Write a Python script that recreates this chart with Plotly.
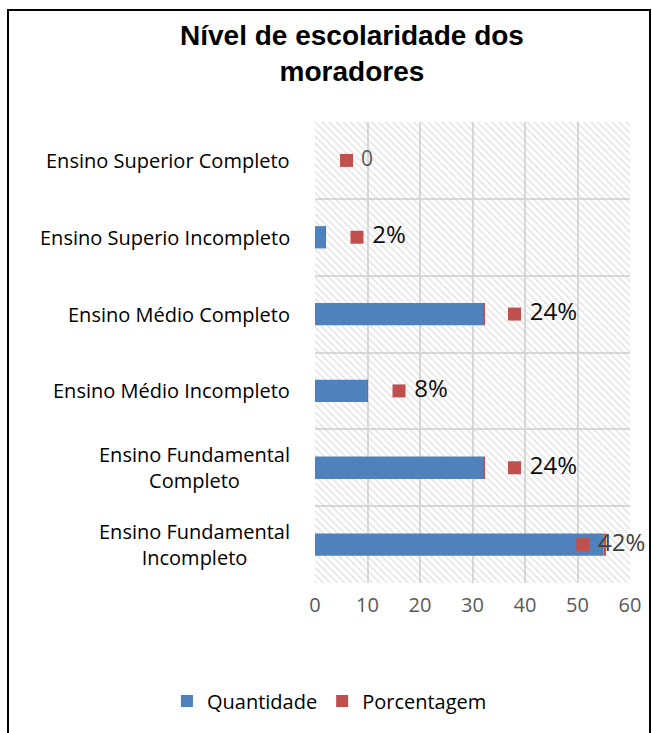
import plotly.graph_objects as go

categories = [
    "Ensino Fundamental<br>Incompleto",
    "Ensino Fundamental<br>Completo",
    "Ensino Médio Incompleto",
    "Ensino Médio Completo",
    "Ensino Superio Incompleto",
    "Ensino Superior Completo",
]
quantidade = [55, 32, 10, 32, 2, 0]
porcentagem = [0.42, 0.24, 0.08, 0.24, 0.02, 0.0]
pct_labels = ["42%", "24%", "8%", "24%", "2%", "0"]
x_ticks = [0, 10, 20, 30, 40, 50, 60]

BLUE = "#4F81BD"
RED = "#C0504D"
GRID = "#D9D9D9"
FONT = "'Open Sans', Lato, sans-serif"

ypos = list(range(len(categories)))
xmax = x_ticks[-1]

# label key positions: offset right of the bar end, clamped inside the plot
label_x = [min(q + 6, xmax - 9) for q in quantidade]

fig = go.Figure()

# hatched plot-area background (transparent between hatch lines so grid shows)
fig.add_trace(go.Bar(
    x=[xmax] * len(categories), y=ypos, orientation="h", width=1,
    marker=dict(color="rgba(0,0,0,0)", line=dict(width=0),
                pattern=dict(shape="\\", fgcolor="#C8C8C8", bgcolor="rgba(0,0,0,0)",
                             size=5, solidity=0.3)),
    showlegend=False, hoverinfo="skip",
))

fig.add_trace(go.Bar(
    x=quantidade, y=ypos, orientation="h", width=0.29,
    marker=dict(color=BLUE, line=dict(width=0)),
    name="Quantidade",
))

fig.add_trace(go.Bar(
    x=porcentagem, y=ypos, base=quantidade, orientation="h", width=0.29,
    marker=dict(color=RED, line=dict(width=0)),
    name="Porcentagem",
))

fig.add_trace(go.Scatter(
    x=label_x, y=ypos, mode="markers+text",
    marker=dict(symbol="square", size=13, color=RED),
    text=[" " + t for t in pct_labels], textposition="middle right",
    textfont=dict(family=FONT, size=[24, 24, 24, 24, 24, 21],
                  color=["#404040", "#0d0d0d", "#0d0d0d", "#0d0d0d", "#0d0d0d", "#595959"]),
    showlegend=False, hoverinfo="skip", cliponaxis=False,
))

# category labels (centered multi-line, right-anchored)
for yv, cat in zip(ypos, categories):
    fig.add_annotation(
        x=-0.073, xref="paper", y=yv, yref="y", text=cat,
        xanchor="right", yanchor="middle", align="center", showarrow=False,
        font=dict(family=FONT, size=20, color="#000000"),
    )

# title
fig.add_annotation(
    x=0.117, xref="paper", y=1 + (122 - 18) / 461, yref="paper",
    text="<b>Nível de escolaridade dos<br>moradores</b>",
    xanchor="center", yanchor="top", align="center", showarrow=False,
    font=dict(family="Liberation Sans, Arial, sans-serif", size=28, color="#000000"),
)

fig.update_layout(
    width=652, height=733,
    margin=dict(l=315, r=22, t=122, b=150),
    paper_bgcolor="white", plot_bgcolor="white",
    barmode="overlay",
    legend=dict(orientation="h", x=-0.47, xanchor="left", y=-0.256, yanchor="middle",
                font=dict(family=FONT, size=20, color="#000000"),
                itemsizing="constant", itemwidth=30, traceorder="normal"),
    xaxis=dict(range=[0, xmax], tickvals=x_ticks, showgrid=True, gridcolor=GRID, gridwidth=2,
               zeroline=False, showline=False, ticks="",
               tickfont=dict(family=FONT, size=20, color="#595959"), ticklabelstandoff=8),
    yaxis=dict(range=[-0.5, len(categories) - 0.5], tickvals=ypos, showticklabels=False,
               showgrid=False, zeroline=False, showline=False, ticks="",
               minor=dict(tickvals=[v - 0.5 for v in ypos] + [len(categories) - 0.5],
                          showgrid=True, gridcolor=GRID, gridwidth=2)),
    shapes=[dict(type="rect", xref="paper", yref="paper",
                 x0=-307 / 315, x1=1 + 20 / 315, y0=-150 / 461 - 0.01, y1=1 + 112 / 461,
                 line=dict(color="#000000", width=2), fillcolor="rgba(0,0,0,0)", layer="below")],
)

fig.write_html("out.html")
